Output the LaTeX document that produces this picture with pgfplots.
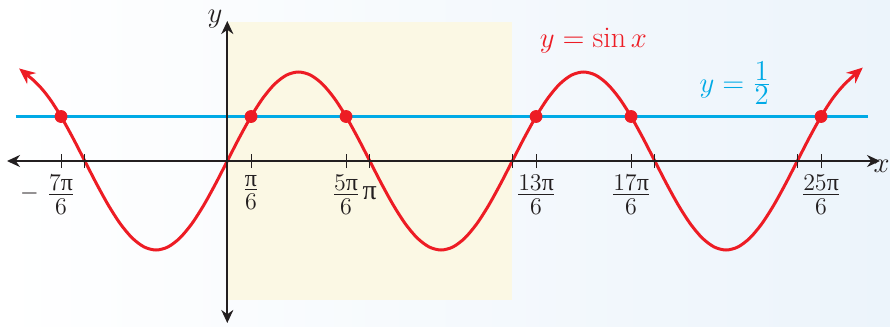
\documentclass[border=0pt]{standalone}
\usepackage{fontspec}
\usepackage{pgfplots}
\pgfplotsset{compat=1.18}
\usetikzlibrary{arrows.meta}

\newfontfamily\grk{Liberation Serif}
\definecolor{sinred}{RGB}{237,28,36}
\definecolor{halfcyan}{RGB}{0,170,230}
\definecolor{bandyellow}{RGB}{251,248,228}
\definecolor{bgblue}{RGB}{236,244,251}
\definecolor{axisblack}{RGB}{35,31,32}

% upright pi, and a compact fraction with full-size numerator and denominator
\newcommand\upi{\mbox{\grk π}}
\newcommand\fr[2]{\frac{\textstyle #1}{\textstyle\vrule height .8em width 0pt #2}}

\begin{document}
\begin{tikzpicture}
\begin{axis}[
  x=22.68pt, y=44.5pt,
  xmin=-4.857, xmax=14.39, ymin=-1.82, ymax=1.573,
  enlargelimits=false, clip=false,
  axis lines=middle, axis on top,
  axis line style={axisblack, line width=1pt},
  every inner x axis line/.append style={{Stealth[length=6.5pt,width=6pt]}-{Stealth[length=6.5pt,width=6pt]}},
  every inner y axis line/.append style={{Stealth[length=6.5pt,width=6pt]}-{Stealth[length=6.5pt,width=6pt]}},
  ytick=\empty,
  xtick={-3.6652,-3.1416,0.5236,2.6180,3.1416,6.2832,6.8068,8.9012,9.4248,12.5664,13.0900},
  xticklabels={$\llap{$-$\hspace{4pt}}\fr{7\upi}{6}$, {}, $\fr{\upi}{6}$, $\fr{5\upi}{6}$,
    $\vphantom{\fr{1}{6}}\mbox{\fontsize{14}{16}\selectfont\grk π}$, {}, $\fr{13\upi}{6}$, $\fr{17\upi}{6}$, {}, {}, $\fr{25\upi}{6}$},
  major tick length=7pt, tick align=center,
  tick style={axisblack, line width=0.5pt},
  tick label style={font=\fontsize{12}{14}\selectfont, text=axisblack},
]
% page background
\fill[left color=white, right color=bgblue] (axis cs:-5.011,-1.854) rectangle (axis cs:14.61,1.809);

% one period highlighted
\addplot[fill=bandyellow, draw=none] coordinates {(0,-1.56) (6.2832,-1.56) (6.2832,1.56) (0,1.56)} -- cycle;

% y = 1/2
\addplot[halfcyan, line width=1.1pt] coordinates {(-4.66,0.5) (14.12,0.5)};

% y = sin x
\addplot[sinred, line width=1.5pt, smooth,
  {Stealth[length=8pt,width=7pt]}-{Stealth[length=8pt,width=7pt]}]
  coordinates {
  (-4.59,1.04) (-4.1888,0.8660) (-3.9270,0.7071) (-3.6652,0.5) (-3.4034,0.2588)
  (-3.1416,0) (-2.8798,-0.2588) (-2.6180,-0.5) (-2.3562,-0.7071) (-2.0944,-0.8660)
  (-1.8326,-0.9659) (-1.5708,-1) (-1.3090,-0.9659) (-1.0472,-0.8660) (-0.7854,-0.7071)
  (-0.5236,-0.5) (-0.2618,-0.2588) (0,0) (0.2618,0.2588) (0.5236,0.5)
  (0.7854,0.7071) (1.0472,0.8660) (1.3090,0.9659) (1.5708,1) (1.8326,0.9659)
  (2.0944,0.8660) (2.3562,0.7071) (2.6180,0.5) (2.8798,0.2588) (3.1416,0)
  (3.4034,-0.2588) (3.6652,-0.5) (3.9270,-0.7071) (4.1888,-0.8660) (4.4506,-0.9659)
  (4.7124,-1) (4.9742,-0.9659) (5.2360,-0.8660) (5.4978,-0.7071) (5.7596,-0.5)
  (6.0214,-0.2588) (6.2832,0) (6.5450,0.2588) (6.8068,0.5) (7.0686,0.7071)
  (7.3304,0.8660) (7.5922,0.9659) (7.8540,1) (8.1158,0.9659) (8.3776,0.8660)
  (8.6394,0.7071) (8.9012,0.5) (9.1630,0.2588) (9.4248,0) (9.6866,-0.2588)
  (9.9484,-0.5) (10.2102,-0.7071) (10.4720,-0.8660) (10.7338,-0.9659) (10.9956,-1)
  (11.2574,-0.9659) (11.5192,-0.8660) (11.7810,-0.7071) (12.0428,-0.5) (12.3046,-0.2588)
  (12.5664,0) (12.8282,0.2588) (13.0900,0.5) (13.3518,0.7071) (13.6136,0.8660)
  (14.01,1.05)
  };

% intersection points
\addplot[only marks, mark=*, mark size=3pt, color=sinred]
  coordinates {(-3.6652,0.5) (0.5236,0.5) (2.6180,0.5) (6.8068,0.5) (8.9012,0.5) (13.0900,0.5)};

\node[sinred, font=\fontsize{15}{18}\selectfont, anchor=base] at (axis cs:8.07,1.27) {$y=\sin x$};
\node[halfcyan, font=\fontsize{14.5}{17}\selectfont, anchor=base] at (axis cs:11.2,0.775) {$y=\frac{\textstyle 1}{\textstyle 2}$};
\node[axisblack, font=\fontsize{14.5}{17}\selectfont, anchor=base] at (axis cs:-0.27,1.555) {$y$};
\node[axisblack, font=\fontsize{14.5}{17}\selectfont, anchor=base east, inner sep=0pt] at (axis cs:14.61,-0.124) {$x$};
\end{axis}
\end{tikzpicture}
\end{document}
